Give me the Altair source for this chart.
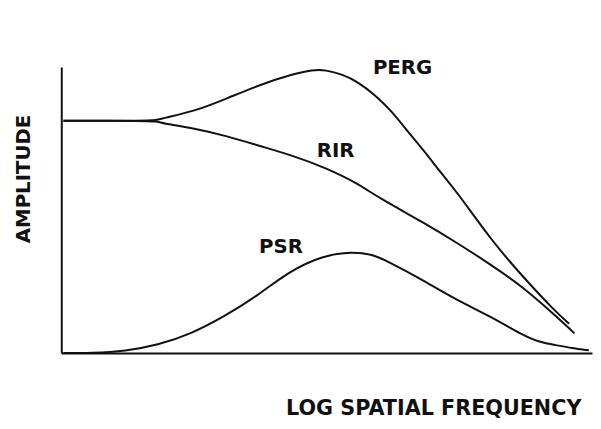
import altair as alt
import pandas as pd

# Schematic curves, x = log spatial frequency (0-100 arbitrary units), y = amplitude (0-100)
perg_x = [0.4, 8.0, 14.5, 18.2, 18.8, 25.1, 31.2, 37.4, 43.7, 47.4, 49.8, 53.0, 55.9, 59.1, 62.3,
          65.2, 68.4, 71.6, 74.5, 80.9, 87.0, 93.1, 95.7]
perg_y = [81.2, 81.2, 81.2, 81.4, 82.0, 84.5, 89.0, 93.8, 97.6, 99.0, 99.0, 97.4, 94.8, 90.3, 84.5,
          77.6, 70.7, 62.8, 56.5, 39.7, 26.6, 14.5, 10.3]

rir_x = [0.4, 8.0, 14.5, 18.2, 18.8, 25.1, 31.2, 37.4, 43.7, 49.8, 55.9, 59.6, 68.4, 74.5, 80.9,
         87.0, 93.1, 96.7]
rir_y = [81.2, 81.2, 81.2, 81.0, 80.4, 78.6, 75.9, 72.4, 69.0, 64.8, 59.3, 54.5, 45.5, 38.6, 31.0,
         23.1, 13.1, 6.9]

psr_x = [0.4, 5.8, 12.1, 18.2, 24.3, 30.7, 36.8, 42.9, 49.3, 54.8, 58.6, 61.5, 67.8, 74.0,
         80.9, 87.0, 90.1, 93.1, 96.3, 99.4]
psr_y = [0.0, 0.0, 0.7, 2.8, 6.6, 12.8, 19.8, 28.6, 34.1, 35.5, 34.5, 32.1, 25.9, 19.0,
         12.8, 6.2, 3.8, 2.8, 1.7, 1.0]

label_text = ["PERG", "RIR", "PSR"]
label_x = [64.3, 51.7, 41.4]
label_y = [99.7, 70.7, 36.9]

rows = []
for name, xs, ys in [("PERG", perg_x, perg_y), ("RIR", rir_x, rir_y), ("PSR", psr_x, psr_y)]:
    for i, (xv, yv) in enumerate(zip(xs, ys)):
        rows.append({"series": name, "x": xv, "y": yv, "order": i})
curves = pd.DataFrame(rows)
labels = pd.DataFrame({"text": label_text, "x": label_x, "y": label_y})

xscale = alt.Scale(domain=[0, 100], nice=False, zero=False)
yscale = alt.Scale(domain=[0, 100], nice=False, zero=False)

FONT = "DejaVu Sans"
INK = "#111111"

lines = alt.Chart(curves).mark_line(
    color=INK, strokeWidth=2, interpolate="basis"
).encode(
    x=alt.X("x:Q", scale=xscale, axis=alt.Axis(
        title="LOG SPATIAL FREQUENCY", titleX=377, titleY=56, titleAlign="center",
        titleBaseline="middle", titleFontSize=21, titleFont=FONT, titleFontWeight="bold",
        titleColor=INK)),
    y=alt.Y("y:Q", scale=yscale, axis=alt.Axis(
        title="AMPLITUDE", titleX=-38, titleY=113, titleAngle=270, titleAlign="center",
        titleBaseline="middle", titleFontSize=20, titleFont=FONT, titleFontWeight="bold",
        titleColor=INK)),
    detail="series:N",
    order="order:Q",
)

text = alt.Chart(labels).mark_text(
    font=FONT, fontSize=20, fontWeight="bold", color=INK, align="center", baseline="middle"
).encode(
    x=alt.X("x:Q", scale=xscale),
    y=alt.Y("y:Q", scale=yscale),
    text="text:N",
)

chart = alt.layer(lines, text).properties(
    width=538, height=290,
    autosize="none",
    padding={"left": 54, "top": 57, "right": 1, "bottom": 66},
    background="white",
).configure_axis(
    grid=False, ticks=False, labels=False,
    domainColor=INK, domainWidth=2,
).configure_view(stroke=None)

chart.save("out.html", embed_options={"renderer": "svg", "actions": False})
